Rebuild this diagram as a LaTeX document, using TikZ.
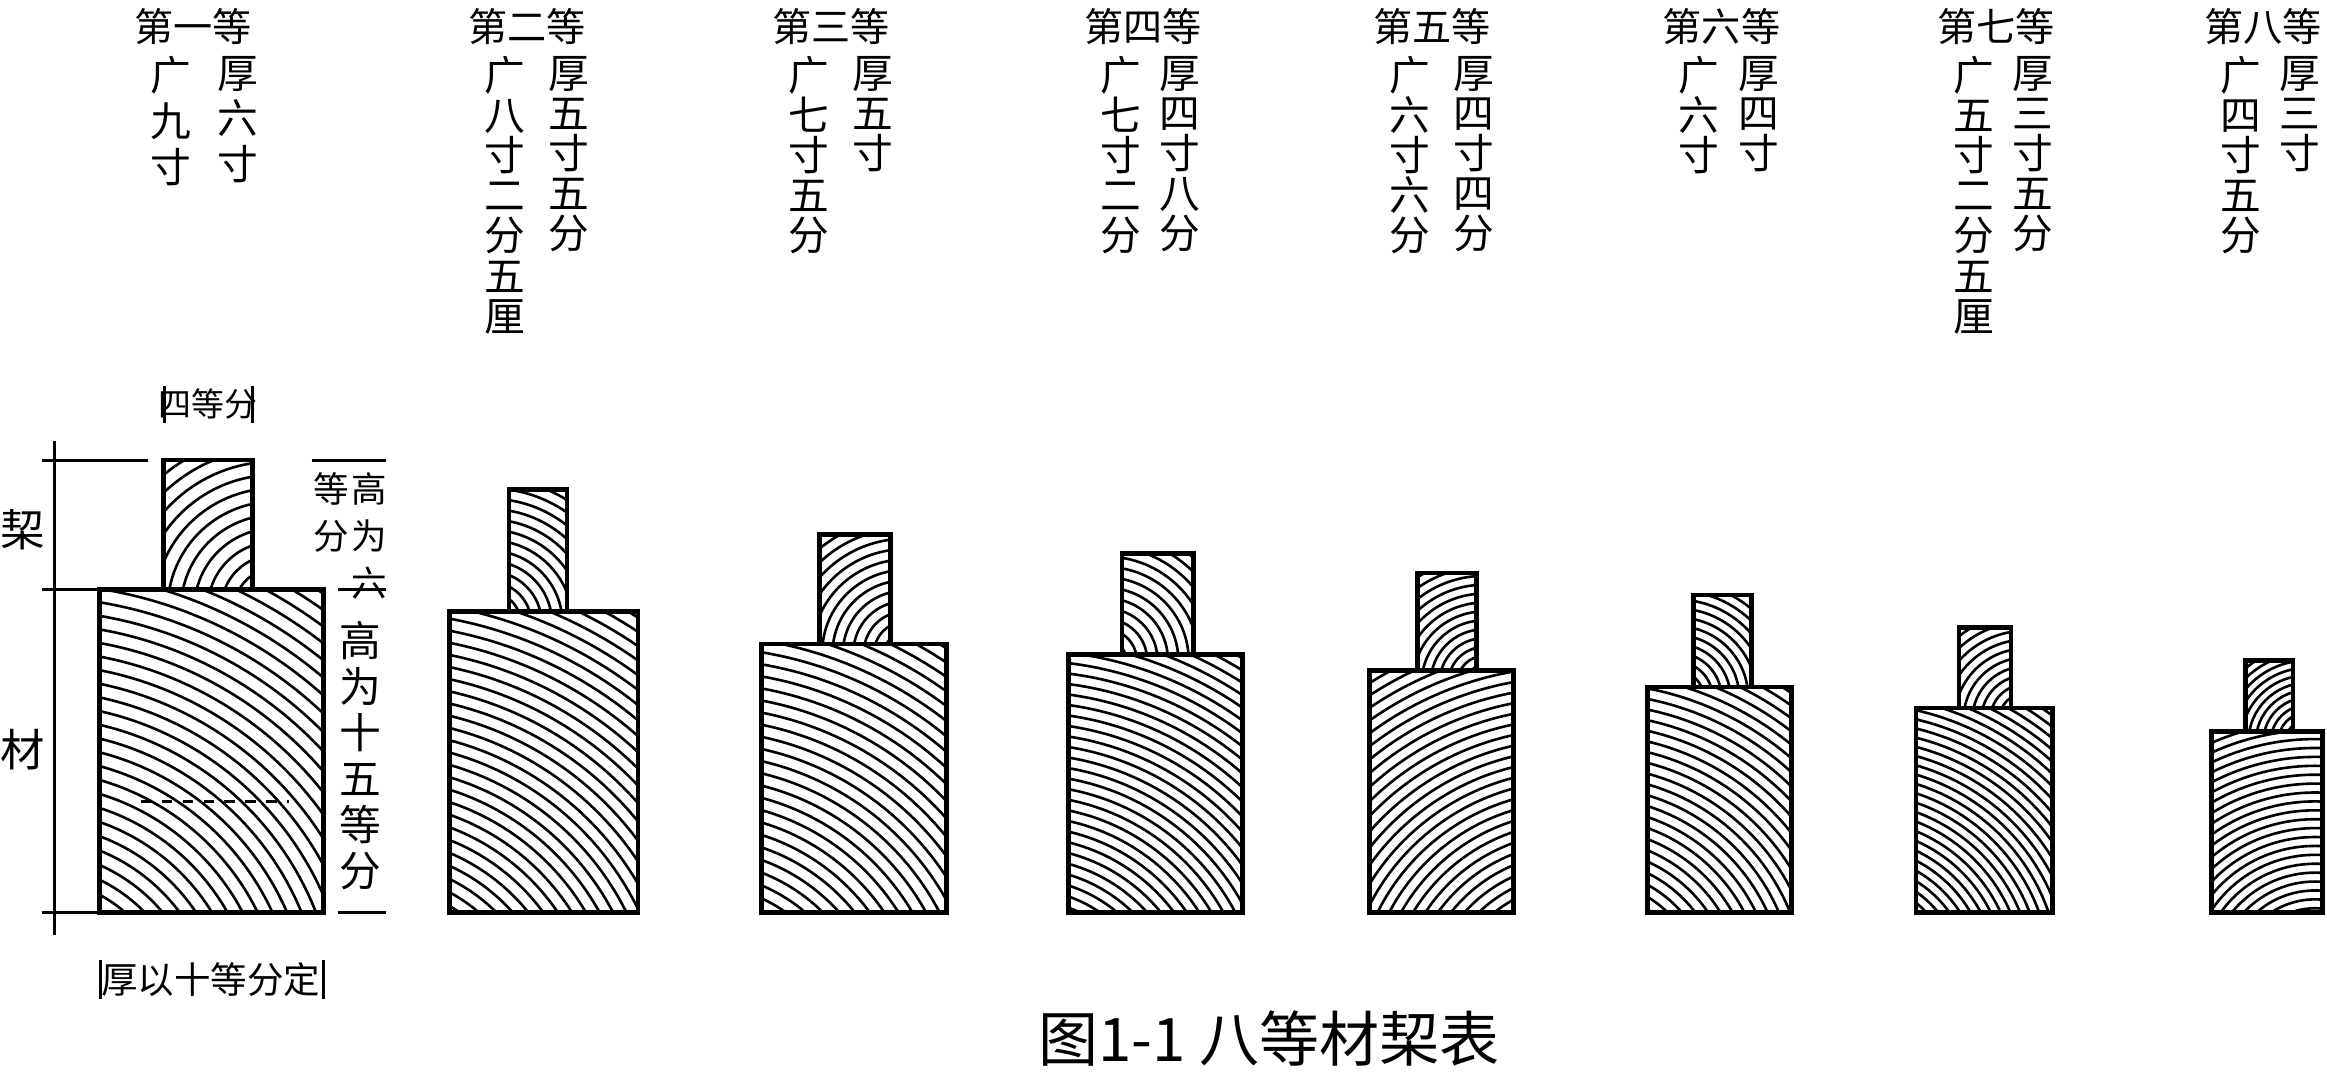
\documentclass[tikz,border=0pt]{standalone}
\usepackage{fontspec}
\newfontfamily\cjk{Noto Sans CJK SC}
\newcommand\woodgrain[7]{%
\begin{scope}
\clip (#1,#2) rectangle (#3,#4);
\foreach \k in {1,...,70} \draw[grain] (#5,#6) circle ({\k*#7});
\end{scope}
\draw[boxline] (#1,#2) rectangle (#3,#4);}
\tikzset{
grain/.style={line width=0.5pt},
boxline/.style={line width=0.9pt},
dim/.style={line width=0.6pt},
vt/.style={font=\cjk\fontsize{7.8}{7.7}\selectfont,align=center,anchor=north,inner sep=0pt},
vtw/.style={font=\cjk\fontsize{7.8}{8.8}\selectfont,align=center,anchor=north,inner sep=0pt},
hd/.style={font=\cjk\fontsize{7.5}{8}\selectfont,inner sep=0pt}
}
\begin{document}
\begin{tikzpicture}[x=0.01cm,y=-0.01cm]
\useasboundingbox (0,0) rectangle (1568,726);
% boxes
\woodgrain{110}{310}{170}{397}{185}{410}{9}
\woodgrain{67}{397}{218}{615}{20}{690}{9}
\woodgrain{343}{330}{382}{412}{330}{420}{7}
\woodgrain{303}{412}{430}{615}{250}{700}{8}
\woodgrain{552}{360}{600}{434}{610}{440}{7}
\woodgrain{513}{434}{638}{615}{470}{700}{8}
\woodgrain{756}{373}{804}{441}{745}{445}{7}
\woodgrain{720}{441}{837}{615}{690}{690}{7}
\woodgrain{955}{386}{995}{452}{1000}{460}{6}
\woodgrain{923}{452}{1020}{615}{1060}{680}{7}
\woodgrain{1141}{401}{1180}{463}{1130}{470}{6}
\woodgrain{1110}{463}{1207}{615}{1070}{670}{7}
\woodgrain{1320}{423}{1355}{477}{1365}{485}{6}
\woodgrain{1291}{477}{1383}{615}{1250}{660}{6}
\woodgrain{1513}{445}{1545}{493}{1555}{500}{5}
\woodgrain{1490}{493}{1565}{615}{1560}{660}{6}
\draw[dash pattern=on 2pt off 2pt,line width=0.5pt] (95,540) -- (195,540);
% headers
\foreach \n/\x/\t in {1/130/第一等,2/355/第二等,3/560/第三等,4/770/第四等,5/965/第五等,6/1160/第六等,7/1345/第七等,8/1525/第八等}
  \node[hd] (h\n) at (\x,18) {\t};
\node[vtw] (g1) at (115,37) {广\\九\\寸};
\node[vtw] (t1) at (160,37) {厚\\六\\寸};
\foreach \n/\a/\b/\ga/\gb in {2/340/383/{广\\八\\寸\\二\\分\\五\\厘}/{厚\\五\\寸\\五\\分},
 3/545/588/{广\\七\\寸\\五\\分}/{厚\\五\\寸},
 4/755/795/{广\\七\\寸\\二\\分}/{厚\\四\\寸\\八\\分},
 5/950/993/{广\\六\\寸\\六\\分}/{厚\\四\\寸\\四\\分},
 6/1145/1185/{广\\六\\寸}/{厚\\四\\寸},
 7/1330/1370/{广\\五\\寸\\二\\分\\五\\厘}/{厚\\三\\寸\\五\\分},
 8/1510/1550/{广\\四\\寸\\五\\分}/{厚\\三\\寸}}{
  \node[vt] (g\n) at (\a,37) {\ga};
  \node[vt] (t\n) at (\b,37) {\gb};
}
% left dimension
\coordinate (lt) at (37,297); \coordinate (lb) at (37,630);
\draw[dim] (lt) -- (lb);
\draw[dim] (28,310) -- (100,310);
\draw[dim] (28,397) -- (75,397);
\draw[dim] (28,615) -- (75,615);
\node[hd,font=\cjk\fontsize{8.5}{9}\selectfont] (qi) at (15,357) {栔};
\node[hd,font=\cjk\fontsize{8.5}{9}\selectfont] (cai) at (15,505) {材};
% right dimension
\draw[dim] (210,310) -- (260,310);
\draw[dim] (228,397) -- (260,397);
\draw[dim] (228,615) -- (260,615);
\node[vt,font=\cjk\fontsize{6.8}{9}\selectfont] (r1) at (249,318) {高\\为\\六};
\node[vt,font=\cjk\fontsize{6.8}{9}\selectfont] (r2) at (223,318) {等\\分};
\node[vtw,font=\cjk\fontsize{8}{8.8}\selectfont] (r3) at (243,418) {高\\为\\十\\五\\等\\分};
% top / bottom
\node[hd,font=\cjk\fontsize{6.3}{7}\selectfont] (four) at (140,272) {四等分};
\draw[dim] (111,260) -- (111,285);
\draw[dim] (170,260) -- (170,285);
\node[hd,font=\cjk\fontsize{7}{8}\selectfont] (ten) at (142,660) {厚以十等分定};
\draw[dim] (68,647) -- (68,673);
\draw[dim] (218,647) -- (218,673);
\node[hd,font=\cjk\fontsize{11.5}{12}\selectfont] (capt) at (855,700) {图1-1\ 八等材栔表};
\end{tikzpicture}
\end{document}
